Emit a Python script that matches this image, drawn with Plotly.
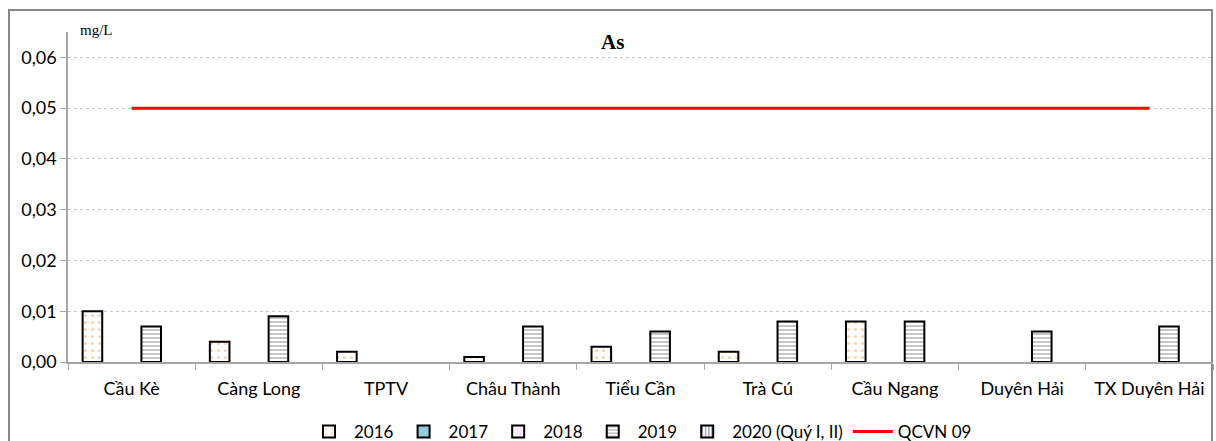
import plotly.graph_objects as go

# Monitoring sites (districts of Trà Vinh)
sites = ["Cầu Kè", "Càng Long", "TPTV", "Châu Thành", "Tiểu Cần",
         "Trà Cú", "Cầu Ngang", "Duyên Hải", "TX Duyên Hải"]

# Arsenic concentration (mg/L) by year; None = no measurement
as_2016 = [0.010, 0.004, 0.002, 0.001, 0.003, 0.002, 0.008, None, None]
as_2017 = [None, None, None, None, None, None, None, None, None]
as_2018 = [None, None, None, None, None, None, None, None, None]
as_2019 = [0.007, 0.009, None, 0.007, 0.006, 0.008, 0.008, 0.006, 0.007]
as_2020 = [None, None, None, None, None, None, None, None, None]

# Regulatory limit QCVN 09
qcvn_limit = [0.05] * len(sites)

y_ticks = [0.00, 0.01, 0.02, 0.03, 0.04, 0.05, 0.06]

fig = go.Figure()

bar_line = dict(color="black", width=2)

fig.add_trace(go.Bar(
    name="2016", x=sites, y=as_2016,
    marker=dict(color="white", line=bar_line,
                pattern=dict(shape=".", fgcolor="#f4a460", bgcolor="white",
                             size=7, solidity=0.15)),
))
fig.add_trace(go.Bar(
    name="2017", x=sites, y=as_2017,
    marker=dict(color="#92cddc", line=bar_line),
))
fig.add_trace(go.Bar(
    name="2018", x=sites, y=as_2018,
    marker=dict(color="white", line=bar_line,
                pattern=dict(shape="+", fgcolor="#ff66ff", bgcolor="white",
                             size=6, solidity=0.2)),
))
fig.add_trace(go.Bar(
    name="2019", x=sites, y=as_2019,
    marker=dict(color="white", line=bar_line,
                pattern=dict(shape="-", fgcolor="#404040", bgcolor="white",
                             size=4, solidity=0.3)),
))
fig.add_trace(go.Bar(
    name="2020 (Quý I, II)", x=sites, y=as_2020,
    marker=dict(color="white", line=bar_line,
                pattern=dict(shape="|", fgcolor="#1f3864", bgcolor="white",
                             size=4, solidity=0.4)),
))
fig.add_trace(go.Scatter(
    name="QCVN 09", x=sites, y=qcvn_limit, mode="lines",
    line=dict(color="#ff0000", width=3),
))

axis_font = dict(family="Lato, 'Open Sans', sans-serif", size=18, color="black")

fig.update_layout(
    width=1216, height=441,
    margin=dict(l=68, r=3, t=32, b=79, autoexpand=False),
    paper_bgcolor="white", plot_bgcolor="white",
    separators=",.",
    barmode="group",
    bargap=0.23, bargroupgap=0,
    showlegend=True,
    legend=dict(orientation="h", x=0.5, xanchor="center",
                yref="container", y=(441 - 432) / 441, yanchor="middle",
                font=dict(family="Lato, 'Open Sans', sans-serif",
                          size=17, color="black"),
                itemwidth=40, tracegroupgap=0, traceorder="normal"),
    xaxis=dict(
        type="category", tickson="boundaries",
        showline=True, linecolor="#a6a6a6", linewidth=1.5,
        ticks="outside", ticklen=6, tickcolor="#a6a6a6",
        ticklabelstandoff=10,
        showgrid=False, tickfont=axis_font,
    ),
    yaxis=dict(
        range=[0, 0.065], tickvals=y_ticks, tickformat=".2f",
        showline=True, linecolor="#a6a6a6", linewidth=1.5,
        ticks="outside", ticklen=6, tickcolor="#a6a6a6",
        showgrid=True, gridcolor="#c8c8c8", griddash="dot", gridwidth=1,
        zeroline=False, tickfont=axis_font,
    ),
    annotations=[
        dict(text="<b>As</b>", xref="paper", yref="paper",
             x=(612 - 68) / 1145, y=(362 - 42) / 330,
             xanchor="center", yanchor="middle", showarrow=False,
             font=dict(family="'Liberation Serif', serif", size=21, color="black")),
        dict(text="mg/L", xref="paper", yref="paper",
             x=(78 - 68) / 1145, y=(362 - 30) / 330,
             xanchor="left", yanchor="middle", showarrow=False,
             font=dict(family="'Liberation Serif', serif", size=15, color="black")),
    ],
    shapes=[
        dict(type="rect", xref="paper", yref="paper",
             x0=(9 - 68) / 1145, x1=(1212 - 68) / 1145,
             y0=(362 - 460) / 330, y1=(362 - 10) / 330,
             line=dict(color="#888888", width=2), layer="below"),
    ],
)

fig.write_html("out.html")
